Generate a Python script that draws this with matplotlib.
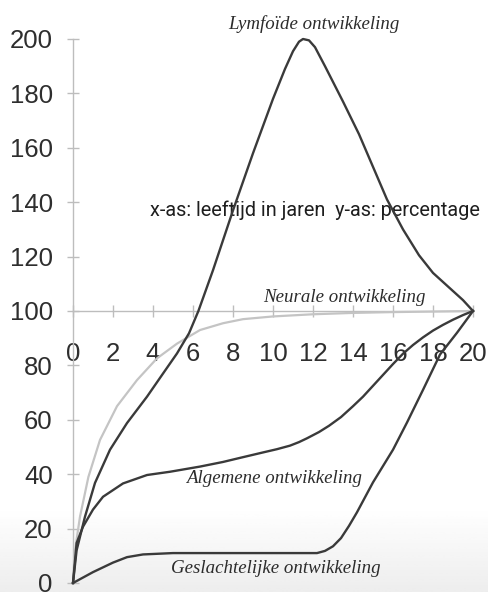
import matplotlib
matplotlib.use("Agg")
import numpy as np
import matplotlib.pyplot as plt

# age in years / percentage of size at 20
lymf_age = [0, 0.18, 0.6, 1.1, 1.85, 2.7, 3.7, 4.5, 5.2, 5.8, 6.27, 7, 8, 9, 10, 10.6,
            11, 11.3, 11.5, 11.8, 12.1, 12.6, 13.5, 14.3, 15, 15.7, 16.5, 17.3, 18,
            18.9, 19.5, 20]
lymf_val = [0, 12, 24.4, 36.8, 49, 58.8, 68.5, 77, 84.4, 91.8, 100, 115, 137, 158, 178, 189,
            195.5, 199, 200, 199.5, 197, 190, 177, 165, 153, 141, 130, 120.5, 114,
            108, 104, 100]

neur_age = [0, 0.1, 0.35, 0.77, 1.35, 2.2, 3.2, 4.2, 5.2, 6.35, 7.5, 8.5, 10, 12, 14, 16, 18, 20]
neur_val = [0, 12, 24.4, 39, 52.6, 65, 74.6, 82.6, 88, 93, 95.5, 97, 98, 98.8, 99.3, 99.6, 99.8, 100]

alg_age = [0, 0.18, 0.5, 1, 1.5, 2.5, 3.7, 4.85, 6.35, 7.5, 8.35, 9.5, 10.2, 10.85, 11.3,
           11.7, 12.3, 12.8, 13.4, 14, 14.5, 15, 15.5, 16, 16.5, 17, 17.5, 18, 18.5,
           19, 19.5, 20]
alg_val = [0, 14.7, 20.7, 27, 31.7, 36.6, 39.7, 40.9, 42.8, 44.5, 46, 48, 49.2, 50.5, 51.8,
           53.2, 55.5, 57.8, 61, 65, 68.5, 72.5, 76.5, 80.5, 84.3, 87.5, 90.3, 92.8, 94.9,
           96.8, 98.5, 100]

gesl_age = [0, 1, 2, 2.7, 3.5, 5, 8, 12.2, 12.6, 13, 13.4, 13.8, 14.2, 15, 16, 16.7,
            17.5, 18.35, 19.2, 20]
gesl_val = [0, 4, 7.5, 9.5, 10.5, 11, 11, 11, 11.8, 13.5, 16.5, 21, 26, 37, 49, 59,
            71, 84, 92, 100]

xticks = list(range(0, 21, 2))
yticks = list(range(0, 201, 20))

fig = plt.figure(figsize=(4.89, 5.92), dpi=100)

# light grey shading of the scanned page towards the bottom
bg = fig.add_axes([0, 0, 1, 1], zorder=-1)
shade = np.clip((np.linspace(0, 1, 200) - 0.86) / 0.14, 0, 1)[:, None] * 0.07
bg.imshow(1 - shade, cmap="gray", vmin=0, vmax=1, aspect="auto", extent=(0, 1, 1, 0))
bg.set_axis_off()

ax = fig.add_axes([73 / 489, 9 / 592, 400 / 489, 544 / 592])
ax.set_xlim(0, 20)
ax.set_ylim(0, 200)
ax.patch.set_alpha(0)

for s in ["top", "right"]:
    ax.spines[s].set_visible(False)
ax.spines["left"].set_position(("data", 0))
ax.spines["bottom"].set_position(("data", 100))
for s in ["left", "bottom"]:
    ax.spines[s].set_color("#bdbdbd")
    ax.spines[s].set_linewidth(1.0)

ax.set_xticks(xticks)
ax.set_yticks(yticks)
ax.tick_params(direction="inout", length=9, width=1, color="#bdbdbd",
               labelsize=18.5, labelcolor="#2e2e2e")
ax.tick_params(axis="x", pad=18)
ax.tick_params(axis="y", pad=10)
for lab in ax.get_xticklabels() + ax.get_yticklabels():
    lab.set_family("Liberation Sans")

ax.plot(neur_age, neur_val, color="#c4c4c4", lw=1.6, clip_on=False, zorder=3)
ax.plot(lymf_age, lymf_val, color="#3a3a3a", lw=1.7, clip_on=False, zorder=4)
ax.plot(alg_age, alg_val, color="#3a3a3a", lw=1.7, clip_on=False, zorder=4)
ax.plot(gesl_age, gesl_val, color="#3a3a3a", lw=1.7, clip_on=False, zorder=4)

lab_style = dict(family="Liberation Serif", style="italic", fontsize=13.6,
                 color="#2c2c2c", ha="center", va="center")
ax.text(12.05, 205.5, "Lymfoïde ontwikkeling", clip_on=False, **lab_style)
ax.text(13.55, 105.1, "Neurale ontwikkeling", **lab_style)
ax.text(10.07, 38.6, "Algemene ontwikkeling", **lab_style)
ax.text(10.15, 5.5, "Geslachtelijke ontwikkeling", **lab_style)

ax.text(3.85, 137, "x-as: leeftijd in jaren  y-as: percentage",
        family=["Roboto"], fontsize=14.3,
        color="#1e1e1e", ha="left", va="center")

fig.savefig("out.png", dpi=100)
